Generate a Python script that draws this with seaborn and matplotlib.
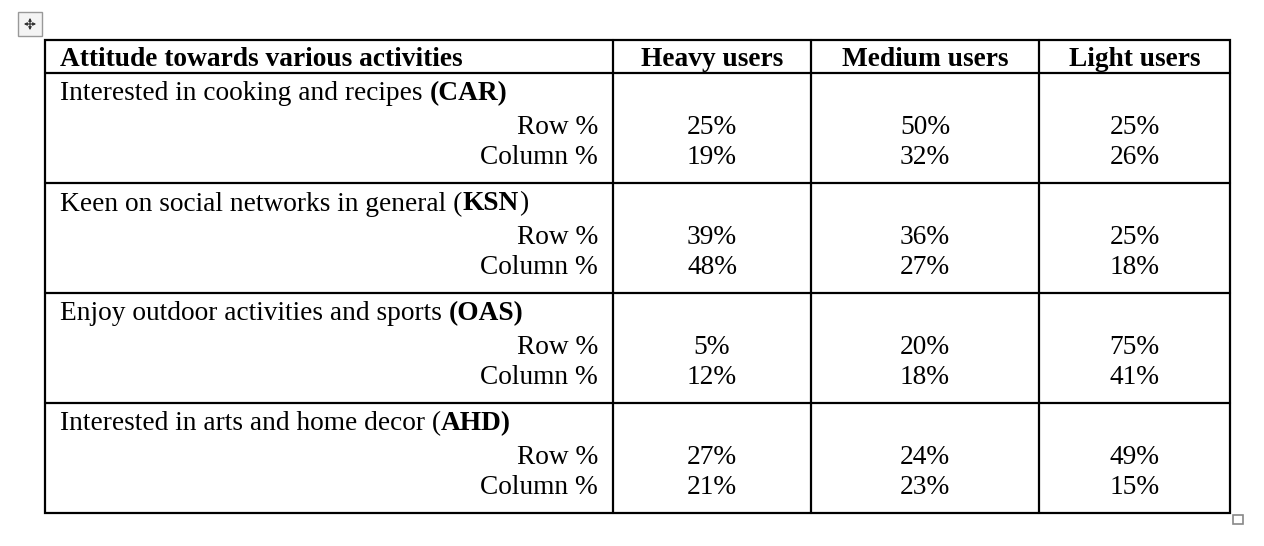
import matplotlib
matplotlib.use('Agg')
import matplotlib.pyplot as plt
from matplotlib.patches import Rectangle
import seaborn as sns

# ── Data ────────────────────────────────────────────────
header_title = "Attitude towards various activities"
user_groups = ["Heavy users", "Medium users", "Light users"]
# each activity: (regular part, bold part, trailing regular part)
activities = [
    ("Interested in cooking and recipes ", "(CAR)", ""),
    ("Keen on social networks in general (", "KSN", ")"),
    ("Enjoy outdoor activities and sports ", "(OAS)", ""),
    ("Interested in arts and home decor (", "AHD)", ""),
]
measures = ["Row %", "Column %"]
row_pct = [[25, 50, 25], [39, 36, 25], [5, 20, 75], [27, 24, 49]]
col_pct = [[19, 32, 26], [48, 27, 18], [12, 18, 41], [21, 23, 15]]

# ── Figure in pixel coordinates ─────────────────────────
sns.set_theme(style="white")
plt.rcParams['font.family'] = ['Liberation Serif', 'DejaVu Serif']
plt.rcParams['text.color'] = 'black'
W, H = 1264, 546
fig = plt.figure(figsize=(W / 100, H / 100), dpi=100)
ax = fig.add_axes([0, 0, 1, 1])
ax.set_xlim(0, W)
ax.set_ylim(H, 0)
ax.axis('off')

fs = 19.7
left, right, top, bottom = 45, 1230, 40, 513
col_edges = [left, 613, 811, 1039, right]
head_bottom = 73
group_h = 110
lw = 1.6

# borders
ax.add_patch(Rectangle((left, top), right - left, bottom - top,
                       fill=False, lw=lw, color='black'))
for x in col_edges[1:-1]:
    ax.plot([x, x], [top, bottom], color='black', lw=lw)
ax.plot([left, right], [head_bottom, head_bottom], color='black', lw=lw)
for i in range(1, len(activities)):
    y = head_bottom + i * group_h
    ax.plot([left, right], [y, y], color='black', lw=lw)

# header
ax.text(60, 60, header_title, fontsize=fs, fontweight='bold',
        ha='left', va='center')
col_centers = [(col_edges[i + 1] + col_edges[i + 2]) / 2 for i in range(3)]
for cx, name in zip(col_centers, user_groups):
    ax.text(cx, 60, name, fontsize=fs, fontweight='bold',
            ha='center', va='center')

fig.canvas.draw()
renderer = fig.canvas.get_renderer()


def mixed_text(x, y, parts):
    for s, weight in parts:
        if not s:
            continue
        t = ax.text(x, y, s, fontsize=fs, fontweight=weight,
                    ha='left', va='center')
        x += t.get_window_extent(renderer).width


for i, (reg, bold, tail) in enumerate(activities):
    y0 = head_bottom + i * group_h
    mixed_text(60, y0 + 21, [(reg, 'normal'), (bold, 'bold'), (tail, 'normal')])
    for j, vals in enumerate([row_pct[i], col_pct[i]]):
        y = y0 + 54 + j * 30
        ax.text(598, y, measures[j], fontsize=fs, ha='right', va='center')
        for cx, v in zip(col_centers, vals):
            ax.text(cx, y, f"{v}%", fontsize=fs, ha='center', va='center')

# move handle (top-left) and resize handle (bottom-right)
ax.add_patch(Rectangle((18, 12), 24, 24, fill=True, facecolor='#f4f4f4',
                       edgecolor='#999999', lw=1))
ax.annotate('', xy=(30, 15), xytext=(30, 33),
            arrowprops=dict(arrowstyle='<|-|>', color='#333333', lw=0.9,
                            mutation_scale=4))
ax.annotate('', xy=(21, 24), xytext=(39, 24),
            arrowprops=dict(arrowstyle='<|-|>', color='#333333', lw=0.9,
                            mutation_scale=4))
ax.add_patch(Rectangle((1233, 515), 10, 9, fill=True, facecolor='white',
                       edgecolor='#888888', lw=1.2))

fig.savefig("out.png", dpi=100)
